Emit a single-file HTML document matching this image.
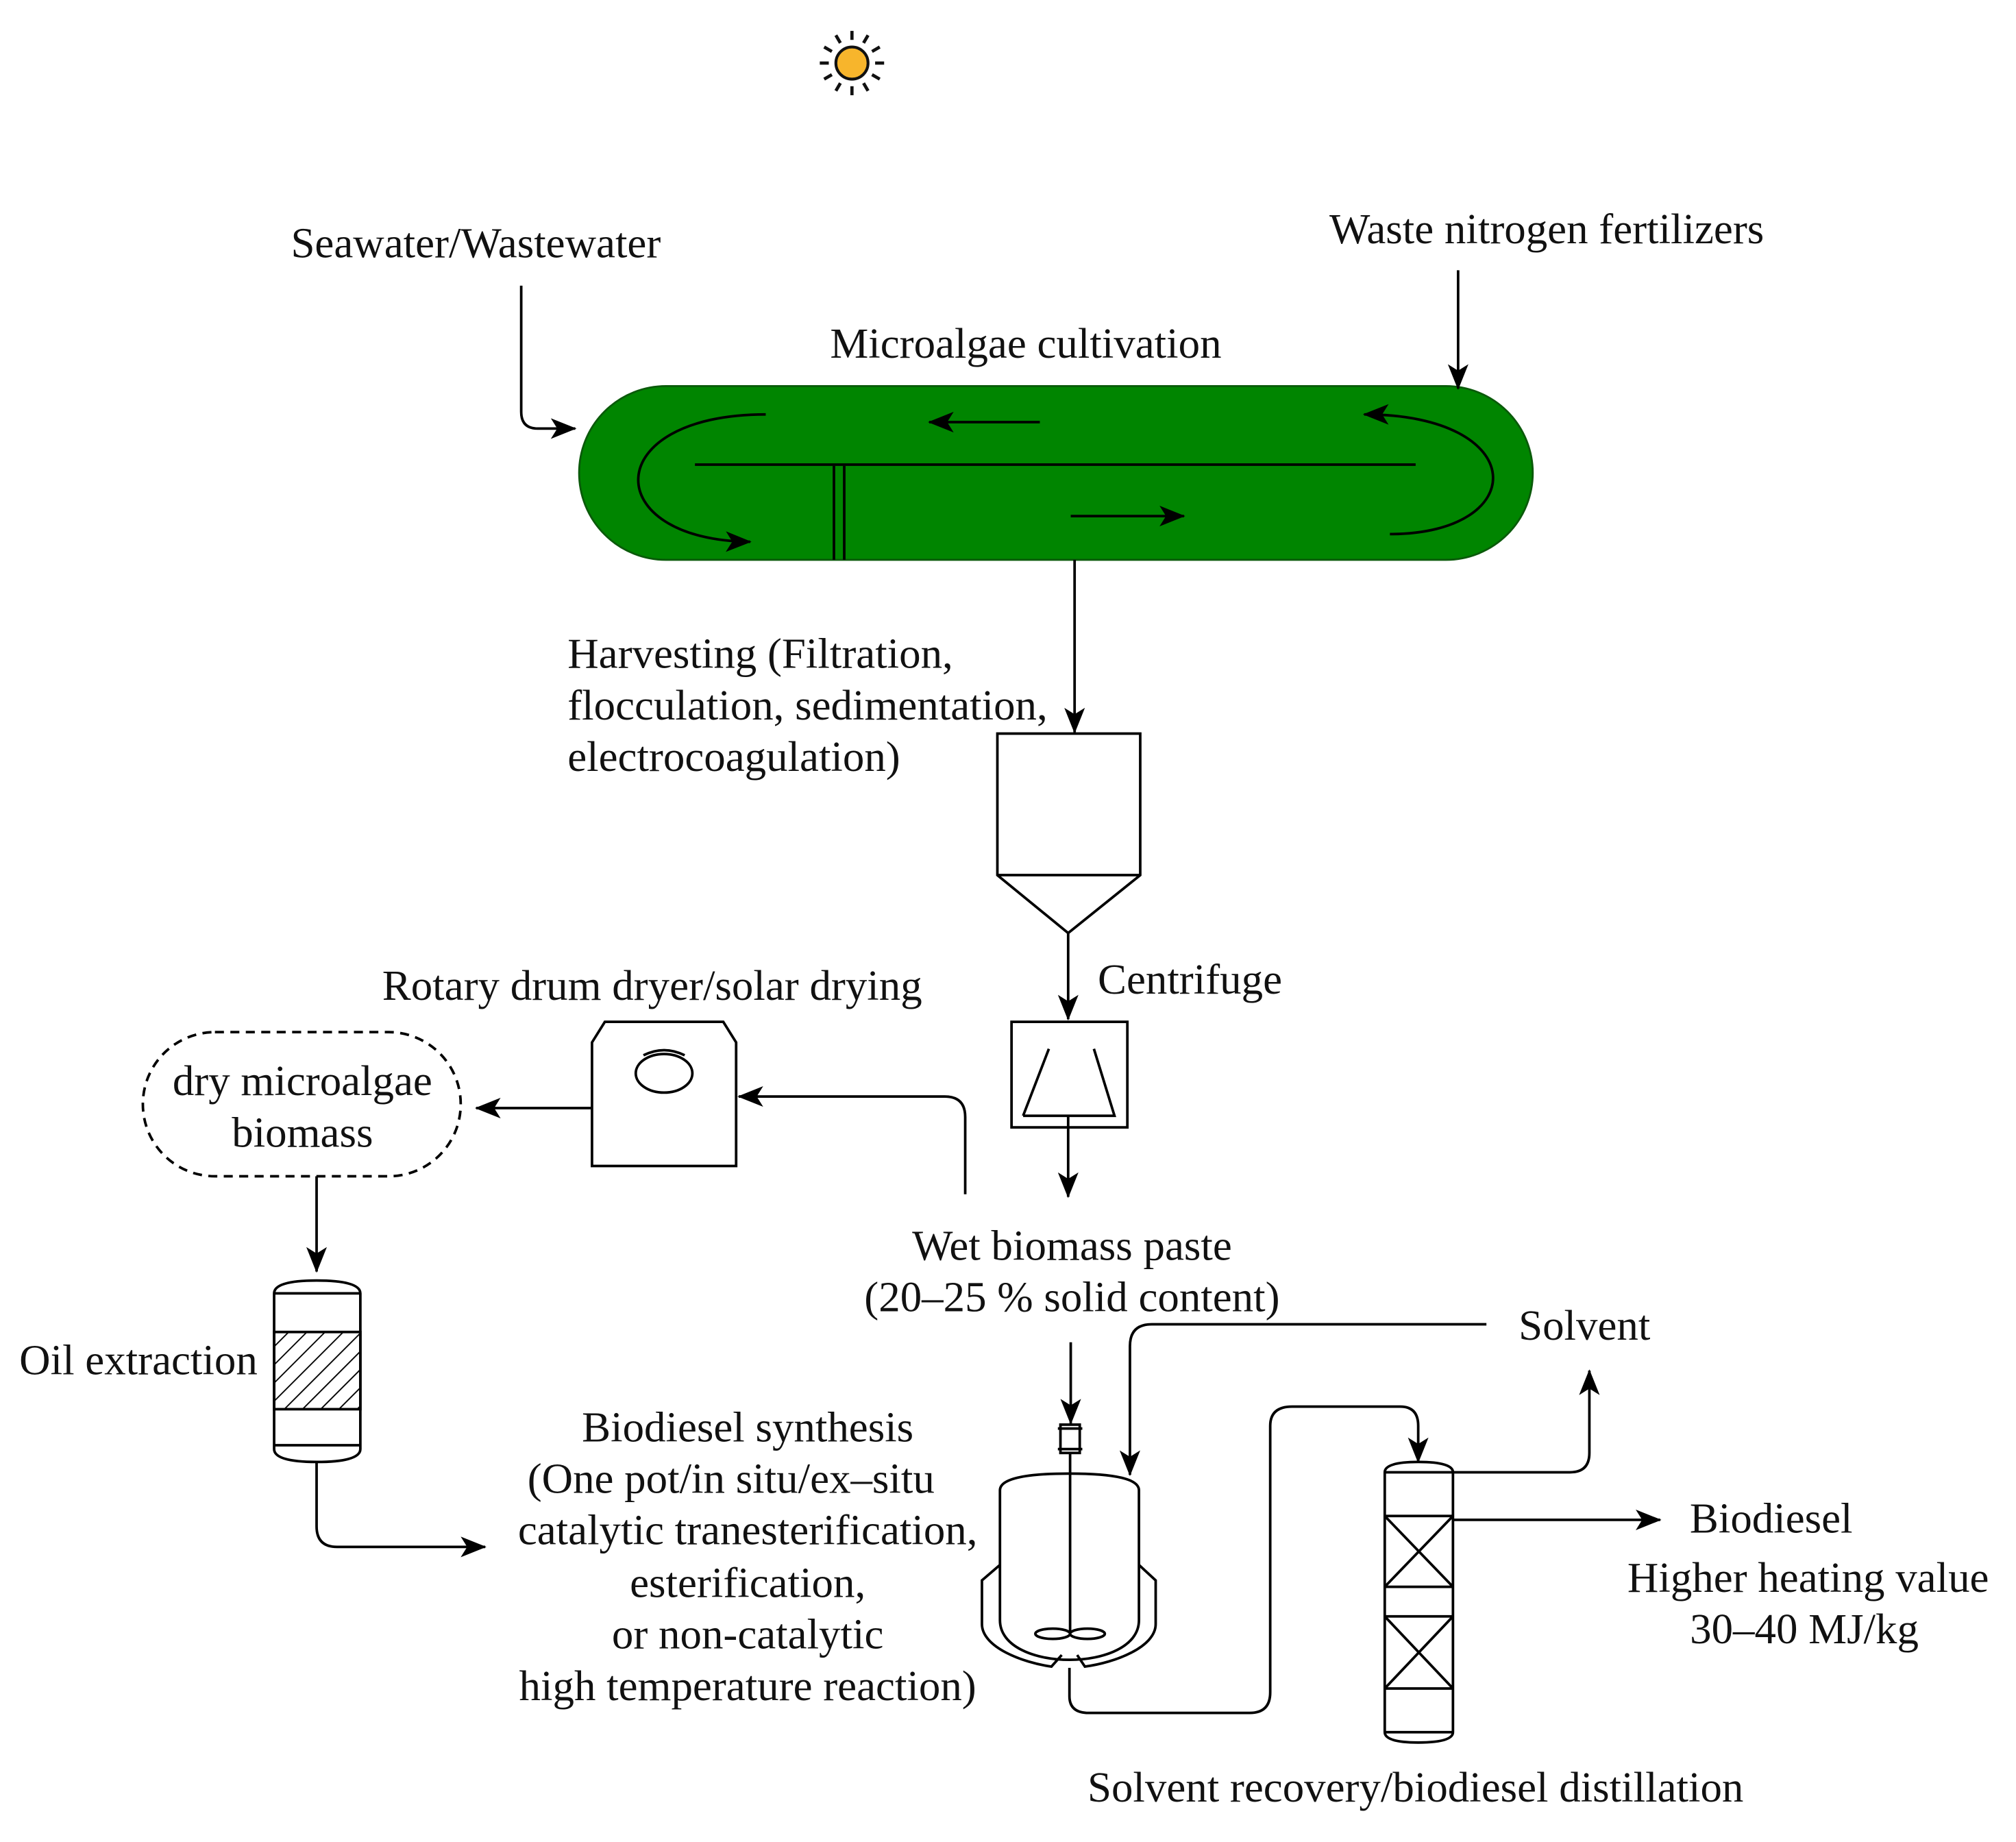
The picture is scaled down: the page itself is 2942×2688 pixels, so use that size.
<!DOCTYPE html>
<html><head><meta charset="utf-8"><style>html,body{margin:0;padding:0;background:#fff}svg{display:block}text{font-family:"Liberation Serif",serif;font-size:33.5px;fill:#111}</style></head>
<body>
<svg width="2942" height="2688" viewBox="0 0 1566.5 1431.3" preserveAspectRatio="none" xmlns="http://www.w3.org/2000/svg">
<defs>
<marker id="a" viewBox="0 0 20 16" refX="19" refY="8" markerWidth="20" markerHeight="16" markerUnits="userSpaceOnUse" orient="auto">
<path d="M0,0 L20,8 L0,16 L5,8 Z" fill="#000"/></marker>
<pattern id="h" width="10" height="10" patternUnits="userSpaceOnUse" patternTransform="rotate(45)">
<line x1="0" y1="0" x2="0" y2="10" stroke="#000" stroke-width="2"/></pattern>
</defs>
<g fill="none" stroke="#000" stroke-width="2">
<g transform="translate(662,49)">
<circle r="12.5" fill="#F7B52C" stroke="#111" stroke-width="2.2"/>
<g stroke="#111" stroke-width="2.5">
<line x1="0" y1="-18" x2="0" y2="-25"/><line x1="0" y1="18" x2="0" y2="25"/>
<line x1="-18" y1="0" x2="-25" y2="0"/><line x1="18" y1="0" x2="25" y2="0"/>
<line x1="9" y1="-15.6" x2="12.5" y2="-21.6"/><line x1="-9" y1="-15.6" x2="-12.5" y2="-21.6"/>
<line x1="9" y1="15.6" x2="12.5" y2="21.6"/><line x1="-9" y1="15.6" x2="-12.5" y2="21.6"/>
<line x1="15.6" y1="-9" x2="21.6" y2="-12.5"/><line x1="-15.6" y1="-9" x2="-21.6" y2="-12.5"/>
<line x1="15.6" y1="9" x2="21.6" y2="12.5"/><line x1="-15.6" y1="9" x2="-21.6" y2="12.5"/>
</g></g>
<rect x="450" y="300" width="741" height="135" rx="67.5" fill="#008500" stroke="#0a5a0a" stroke-width="1.5"/>
<line x1="540" y1="361" x2="1100" y2="361"/>
<line x1="648" y1="362" x2="648" y2="435"/><line x1="656" y1="362" x2="656" y2="435"/>
<path d="M595,322 C465,322 465,420 583,421" marker-end="url(#a)"/>
<path d="M1080,415 C1190,415 1190,322 1060,322" marker-end="url(#a)"/>
<line x1="808" y1="328" x2="722" y2="328" marker-end="url(#a)"/>
<line x1="832" y1="401" x2="920" y2="401" marker-end="url(#a)"/>
<path d="M405,222 L405,320 Q405,333 418,333 L447,333" marker-end="url(#a)"/>
<line x1="1133" y1="210" x2="1133" y2="302" marker-end="url(#a)"/>
<line x1="835" y1="435" x2="835" y2="569" marker-end="url(#a)"/>
<path d="M775,570 L886,570 L886,680 L830,725 L775,680 Z"/>
<line x1="775" y1="680" x2="886" y2="680"/>
<line x1="830" y1="725" x2="830" y2="792" marker-end="url(#a)"/>
<rect x="786" y="794" width="90" height="82"/>
<path d="M795,867 L866,867 L850,815 M795,867 L815,815"/>
<line x1="830" y1="867" x2="830" y2="930" marker-end="url(#a)"/>
<path d="M750,928 L750,868 Q750,852 734,852 L574,852" marker-end="url(#a)"/>
<path d="M460,810 L470,794 L562,794 L572,810 L572,906 L460,906 Z"/>
<ellipse cx="516" cy="834" rx="22" ry="15"/>
<path d="M500,820 Q516,812 532,820"/>
<line x1="459" y1="861" x2="370" y2="861" marker-end="url(#a)"/>
<rect x="111" y="802" width="247" height="112" rx="56" stroke-dasharray="7,5"/>
<line x1="246" y1="914" x2="246" y2="988" marker-end="url(#a)"/>
<path d="M213,1005 Q213,995 246,995 Q280,995 280,1005 L280,1126 Q280,1136 246,1136 Q213,1136 213,1126 Z"/>
<line x1="213" y1="1005" x2="280" y2="1005"/>
<rect x="213" y="1035" width="67" height="60" fill="url(#h)"/>
<line x1="213" y1="1123" x2="280" y2="1123"/>
<path d="M246,1136 L246,1186 Q246,1202 262,1202 L377,1202" marker-end="url(#a)"/>
<line x1="832" y1="1043" x2="832" y2="1106" marker-end="url(#a)"/>
<rect x="824" y="1107" width="15" height="22"/>
<line x1="822" y1="1110" x2="841" y2="1110"/><line x1="822" y1="1126" x2="841" y2="1126"/>
<line x1="831.5" y1="1129" x2="831.5" y2="1270"/>
<path d="M1155,1029 L895,1029 Q878,1029 878,1046 L878,1146" marker-end="url(#a)"/>
<path d="M777,1259 L777,1158 Q777,1145 831,1145 Q885,1145 885,1158 L885,1259 C885,1300 777,1300 777,1259"/>
<path d="M777,1216 L763,1228 L763,1262 C763,1280 795,1292 817,1295 L825,1286"/>
<path d="M885,1216 L898,1228 L898,1262 C898,1280 866,1292 843,1295 L837,1286"/>
<ellipse cx="818" cy="1269.5" rx="13.5" ry="4"/><ellipse cx="845" cy="1269.5" rx="13.5" ry="4"/>
<path d="M831,1296 L831,1318 Q831,1331 846,1331 L971,1331 Q987,1331 987,1315 L987,1108 Q987,1093 1004,1093 L1088,1093 Q1102,1093 1102,1108 L1102,1136" marker-end="url(#a)"/>
<path d="M1076,1144 Q1076,1136 1102,1136 Q1129,1136 1129,1144 L1129,1346 Q1129,1354 1102,1354 Q1076,1354 1076,1346 Z"/>
<line x1="1076" y1="1144" x2="1129" y2="1144"/>
<line x1="1076" y1="1178" x2="1129" y2="1178"/><line x1="1076" y1="1233" x2="1129" y2="1233"/>
<line x1="1076" y1="1178" x2="1129" y2="1233"/><line x1="1129" y1="1178" x2="1076" y2="1233"/>
<line x1="1076" y1="1256" x2="1129" y2="1256"/><line x1="1076" y1="1312" x2="1129" y2="1312"/>
<line x1="1076" y1="1256" x2="1129" y2="1312"/><line x1="1129" y1="1256" x2="1076" y2="1312"/>
<line x1="1076" y1="1346" x2="1129" y2="1346"/>
<path d="M1129,1144 L1220,1144 Q1235,1144 1235,1129 L1235,1065" marker-end="url(#a)"/>
<line x1="1129" y1="1181" x2="1290" y2="1181" marker-end="url(#a)"/>
</g>
<text x="226" y="200">Seawater/Wastewater</text>
<text x="1033" y="189">Waste nitrogen fertilizers</text>
<text x="645" y="278">Microalgae cultivation</text>
<text x="441" y="519">Harvesting (Filtration,</text>
<text x="441" y="559">flocculation, sedimentation,</text>
<text x="441" y="599">electrocoagulation)</text>
<text x="853" y="772">Centrifuge</text>
<text x="297" y="777">Rotary drum dryer/solar drying</text>
<text x="235" y="851" text-anchor="middle">dry microalgae</text>
<text x="235" y="891" text-anchor="middle">biomass</text>
<text x="833" y="979" text-anchor="middle">Wet biomass paste</text>
<text x="833" y="1019" text-anchor="middle">(20–25 % solid content)</text>
<text x="1180" y="1041">Solvent</text>
<text x="15" y="1068">Oil extraction</text>
<g text-anchor="middle">
<text x="581" y="1120">Biodiesel synthesis</text>
<text x="568" y="1160">(One pot/in situ/ex–situ</text>
<text x="581" y="1200">catalytic tranesterification,</text>
<text x="581" y="1241">esterification,</text>
<text x="581" y="1281">or non-catalytic</text>
<text x="581" y="1321">high temperature reaction)</text>
<text x="1405" y="1237">Higher heating value</text>
<text x="1402" y="1277">30–40 MJ/kg</text>
</g>
<text x="1313" y="1191">Biodiesel</text>
<text x="845" y="1400">Solvent recovery/biodiesel distillation</text>
</svg>
</body></html>
